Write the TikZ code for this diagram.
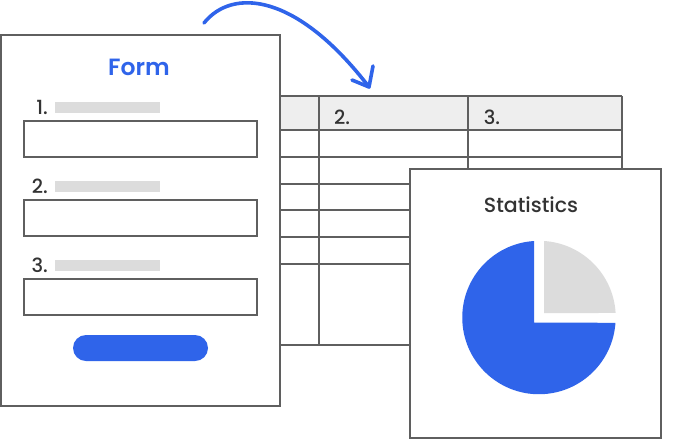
\documentclass[tikz,border=0pt]{standalone}
\usepackage{fontspec}
\setmainfont{Poppins Medium}
\newfontfamily\titlefont{Poppins SemiBold}
\definecolor{formblue}{HTML}{2F64EA}
\definecolor{barfill}{HTML}{DCDCDC}
\definecolor{headfill}{HTML}{EEEEEE}
\definecolor{edge}{HTML}{5F5F5F}
\definecolor{ink}{HTML}{333333}
\tikzset{
	sheet/.style={draw=edge, line width=1.05pt, fill=white},
	grid/.style={draw=edge, line width=1.1pt},
	label/.style={text=ink, font=\fontsize{19.5}{22}\selectfont, inner sep=0pt},
}
\newcommand{\field}[3] % bar top in px, box top in px, number
{
	% number and grey bar
	\node[label, anchor=east] (num#3) at (48,#1+5) {#3.};
	\fill[barfill] (55,#1) rectangle (160,#1+11);
	% input box
	\draw[sheet] (24,#2) rectangle (257,#2+36);
}

\begin{document}
\begin{tikzpicture}[x=1pt, y=-1pt]
	\useasboundingbox (0,0) rectangle (690,440);

	% table behind the sheets
	\fill[headfill] (281,96) rectangle (622,130);
	\draw[grid] (622,96) -- (281,96);
	\draw[grid] (622,96) -- (622,169);
	\draw[grid] (281,130) -- (622,130);
	\draw[grid] (281,157) -- (622,157);
	\draw[grid] (281,184) -- (410,184);
	\draw[grid] (281,210) -- (410,210);
	\draw[grid] (281,237) -- (410,237);
	\draw[grid] (281,264) -- (410,264);
	\draw[grid] (281,345) -- (410,345);
	\draw[grid] (319,96) -- (319,345);
	\draw[grid] (468,96) -- (468,169);
	\node[label] (colB) at (342,117) {2.};
	\node[label] (colC) at (492,117) {3.};

	% form sheet
	\draw[sheet] (1,35) rectangle (280,406);
	\node[inner sep=0pt, text=formblue, font=\titlefont\fontsize{23.5}{26}\selectfont] (formTitle) at (139,67.5) {Form};
	\field{102}{121}{1}
	\field{181}{200}{2}
	\field{260}{279}{3}
	\fill[formblue, rounded corners=13pt] (73,335) rectangle (208,361);

	% statistics sheet
	\draw[sheet] (410,169) rectangle (661,438);
	\node[label, font=\fontsize{20.5}{24}\selectfont] (statTitle) at (531,205) {Statistics};
	\fill[formblue] (534,241) arc[start angle=-93.7, end angle=-356.1, radius=76.7] -- (534,322.7) -- cycle;
	\fill[barfill] (544,241) arc[start angle=-86.3, end angle=-3.4, radius=76.7] -- (544,313) -- cycle;

	% arrow from form to table
	\coordinate (arrowFrom) at (204,23);
	\coordinate (arrowTo) at (369,87);
	\coordinate (barbLeft) at (352,80);
	\coordinate (barbRight) at (373,66);
	\draw[formblue, line width=3.6pt, line cap=round] (arrowFrom) .. controls (232,-12) and (296,-8) .. (arrowTo);
	\draw[formblue, line width=3.6pt, line cap=round, line join=round] (barbLeft) -- (arrowTo) -- (barbRight);
\end{tikzpicture}
\end{document}
